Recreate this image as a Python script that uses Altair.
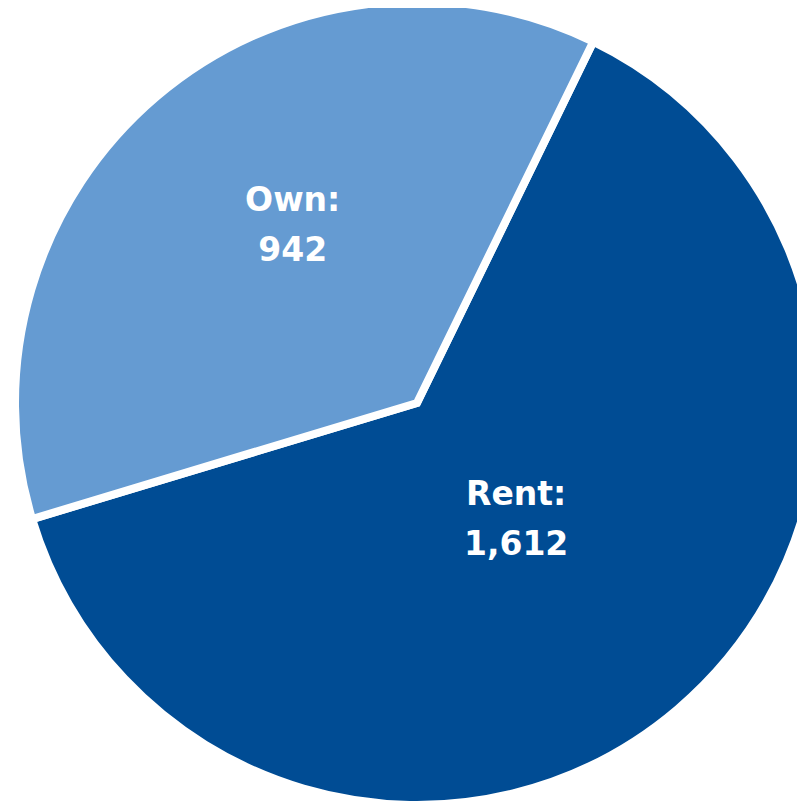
import altair as alt
import pandas as pd
import math

categories = ["Rent", "Own"]
values = [1612, 942]
colors = ["#004C94", "#659BD2"]
label_radii = [153, 215]

df = pd.DataFrame({"category": categories, "value": values, "idx": list(range(len(categories)))})
df["label"] = [f"{c}:\n{v:,}" for c, v in zip(categories, values)]
total = sum(values)

start = math.radians(26)
theta_range = [start, start + 2 * math.pi]
color_scale = alt.Scale(domain=categories, range=colors)

cx, cy, R = 409, 395, 402
label_shift = {"Rent": (0, -25), "Own": (15, -38)}

pie = alt.Chart(df).mark_arc(outerRadius=R, stroke="white", strokeWidth=8).encode(
    theta=alt.Theta("value:Q", stack=True, scale=alt.Scale(range=theta_range)),
    order=alt.Order("idx:Q"),
    color=alt.Color("category:N", scale=color_scale, legend=None),
    x=alt.value(cx), y=alt.value(cy),
)

def label_layer(cat, radius):
    sx, sy = label_shift[cat]
    return alt.Chart(df).transform_window(
        cum="sum(value)", sort=[alt.SortField("idx")]
    ).transform_calculate(
        mid="datum.cum - datum.value / 2"
    ).transform_filter(
        alt.datum.category == cat
    ).mark_text(
        lineBreak="\n", lineHeight=50, fontSize=33, fontWeight="bold",
        font="DejaVu Sans", color="white", align="center", baseline="middle",
        dx=sx, dy=sy,
    ).encode(
        theta=alt.Theta("mid:Q", stack=None,
                        scale=alt.Scale(domain=[0, total], range=theta_range, zero=True, nice=False)),
        radius=alt.value(radius),
        text="label:N",
        x=alt.value(cx), y=alt.value(cy),
    )

layers = [pie] + [label_layer(c, r) for c, r in zip(categories, label_radii)]

chart = alt.layer(*layers).resolve_scale(theta="independent").properties(
    width=789, height=795, padding=0, autosize=alt.AutoSizeParams(type="none")
).configure_view(stroke=None)

chart.save("out.html", embed_options={"renderer": "svg", "actions": False})
